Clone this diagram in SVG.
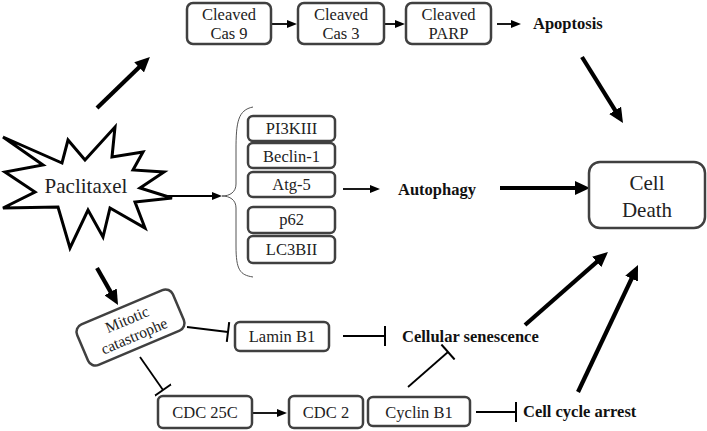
<svg xmlns="http://www.w3.org/2000/svg" width="707" height="431" viewBox="0 0 707 431">
<style>
.box{fill:#fff;stroke:#404040;stroke-width:2.5}
.bt{font-family:"Liberation Serif","Tinos","Noto Serif","DejaVu Serif",serif;font-size:16.5px;fill:#222;text-anchor:middle}
.lb{font-family:"Liberation Serif","Tinos","Noto Serif","DejaVu Serif",serif;font-size:16.5px;font-weight:bold;fill:#111}
.big{font-family:"Liberation Serif","Tinos","Noto Serif","DejaVu Serif",serif;font-size:21px;fill:#222;text-anchor:middle}
.thin{stroke:#000;stroke-width:1.8;fill:none}
.thick{stroke:#000;stroke-width:4.2;fill:none}
.inh{stroke:#000;stroke-width:1.8;fill:none}
</style>
<defs>
<marker id="ah" viewBox="0 0 10 8" refX="4" refY="4" markerWidth="10" markerHeight="8" markerUnits="userSpaceOnUse" orient="auto"><path d="M0,0 L10,4 L0,8 z" fill="#000"/></marker>
<marker id="ahb" viewBox="0 0 15 14" refX="4" refY="7" markerWidth="15" markerHeight="14" markerUnits="userSpaceOnUse" orient="auto"><path d="M0,0 L15,7 L0,14 z" fill="#000"/></marker>
<marker id="tee" viewBox="0 0 4 20" refX="2" refY="10" markerWidth="4" markerHeight="20" markerUnits="userSpaceOnUse" orient="auto"><path d="M2,0 L2,20" stroke="#000" stroke-width="2"/></marker>
</defs>

<g id="connectors">
<line class="thick" x1="97" y1="108" x2="142" y2="64.6" marker-end="url(#ahb)"/>
<line class="thick" x1="582" y1="57" x2="617.2" y2="113.7" marker-end="url(#ahb)"/>
<line class="thick" x1="500" y1="188" x2="579" y2="188" marker-end="url(#ahb)"/>
<line class="thick" x1="525" y1="325" x2="599.7" y2="259.3" marker-end="url(#ahb)"/>
<line class="thick" x1="578" y1="392" x2="633.3" y2="275" marker-end="url(#ahb)"/>
<line class="thick" x1="97" y1="268" x2="112.6" y2="295.4" marker-end="url(#ahb)"/>
<line class="thin" x1="271" y1="24" x2="291" y2="24" marker-end="url(#ah)"/>
<line class="thin" x1="384" y1="24" x2="399" y2="24" marker-end="url(#ah)"/>
<line class="thin" x1="497" y1="24" x2="515" y2="24" marker-end="url(#ah)"/>
<line class="thin" x1="163" y1="196" x2="216" y2="196" marker-end="url(#ah)"/>
<line class="thin" x1="343" y1="189" x2="374" y2="189" marker-end="url(#ah)"/>
<line class="thin" x1="252" y1="413" x2="281" y2="413" marker-end="url(#ah)"/>
<line class="inh" x1="187" y1="327" x2="228" y2="332" marker-end="url(#tee)"/>
<line class="inh" x1="140" y1="357" x2="163" y2="390" marker-end="url(#tee)"/>
<line class="inh" x1="343" y1="336" x2="385" y2="336" marker-end="url(#tee)"/>
<line class="inh" x1="408" y1="387" x2="448" y2="352" marker-end="url(#tee)"/>
<line class="inh" x1="476" y1="412" x2="516" y2="412" marker-end="url(#tee)"/>
<path d="M253,107 C238,110 236,122 236,150 L236,184 C236,192 230,196 222,196 C230,196 236,200 236,208 L236,246 C236,270 240,275 253,277" fill="none" stroke="#555" stroke-width="1"/>
</g>

<g id="paclitaxel">
<polygon points="3,137 62,163 68,140 85,160 115,127 112,157 143,152 133,170 164,172 140,188 172,198 135,202 145,228 110,208 103,237 88,210 70,248 58,207 3,208 35,192 5,172 43,165" fill="#fff" stroke="#000" stroke-width="3" stroke-linejoin="miter"/>
<text class="big" x="86" y="193">Paclitaxel</text>
</g>

<g id="cas9"><rect class="box" x="187" y="3" width="84" height="41" rx="6"/><text class="bt" x="229" y="20">Cleaved</text><text class="bt" x="229" y="39">Cas 9</text></g>
<g id="cas3"><rect class="box" x="298" y="3" width="86" height="41" rx="6"/><text class="bt" x="341" y="20">Cleaved</text><text class="bt" x="341" y="39">Cas 3</text></g>
<g id="parp"><rect class="box" x="406" y="3" width="85" height="41" rx="6"/><text class="bt" x="448.5" y="20">Cleaved</text><text class="bt" x="448.5" y="39">PARP</text></g>
<g id="apoptosis"><text class="lb" x="533" y="29">Apoptosis</text></g>

<g id="pi3k"><rect class="box" x="248" y="116" width="87" height="25" rx="5"/><text class="bt" x="291.5" y="134">PI3KIII</text></g>
<g id="beclin"><rect class="box" x="248" y="143" width="87" height="25" rx="5"/><text class="bt" x="291.5" y="162">Beclin-1</text></g>
<g id="atg5"><rect class="box" x="248" y="172" width="87" height="25" rx="5"/><text class="bt" x="291.5" y="190">Atg-5</text></g>
<g id="p62"><rect class="box" x="248" y="207" width="87" height="26" rx="5"/><text class="bt" x="291.5" y="225">p62</text></g>
<g id="lc3"><rect class="box" x="248" y="236" width="87" height="27" rx="5"/><text class="bt" x="291.5" y="255">LC3BII</text></g>
<g id="autophagy"><text class="lb" x="398" y="195">Autophagy</text></g>

<g id="celldeath"><rect class="box" x="589" y="162" width="116" height="66" rx="11"/>
<text class="big" x="647" y="190">Cell</text>
<text class="big" x="647" y="217">Death</text></g>

<g id="mitotic" transform="rotate(-23 130.5 327.5)"><rect class="box" x="78.5" y="305.5" width="104" height="44" rx="8"/>
<text class="bt" x="130.5" y="324" style="font-size:15.5px">Mitotic</text><text class="bt" x="130.5" y="342" style="font-size:15.5px">catastrophe</text></g>

<g id="lamin"><rect class="box" x="235" y="322" width="94" height="29" rx="5"/><text class="bt" x="282" y="342">Lamin B1</text></g>
<g id="senescence"><text class="lb" x="402" y="342">Cellular senescence</text></g>
<g id="cdc25c"><rect class="box" x="158" y="396" width="94" height="32" rx="5"/><text class="bt" x="205" y="418">CDC 25C</text></g>
<g id="cdc2"><rect class="box" x="289" y="396" width="74" height="32" rx="5"/><text class="bt" x="326" y="418">CDC 2</text></g>
<g id="cyclin"><rect class="box" x="368" y="397" width="102" height="29" rx="5"/><text class="bt" x="419" y="418">Cyclin B1</text></g>
<g id="arrest"><text class="lb" x="523" y="417">Cell cycle arrest</text></g>
</svg>
